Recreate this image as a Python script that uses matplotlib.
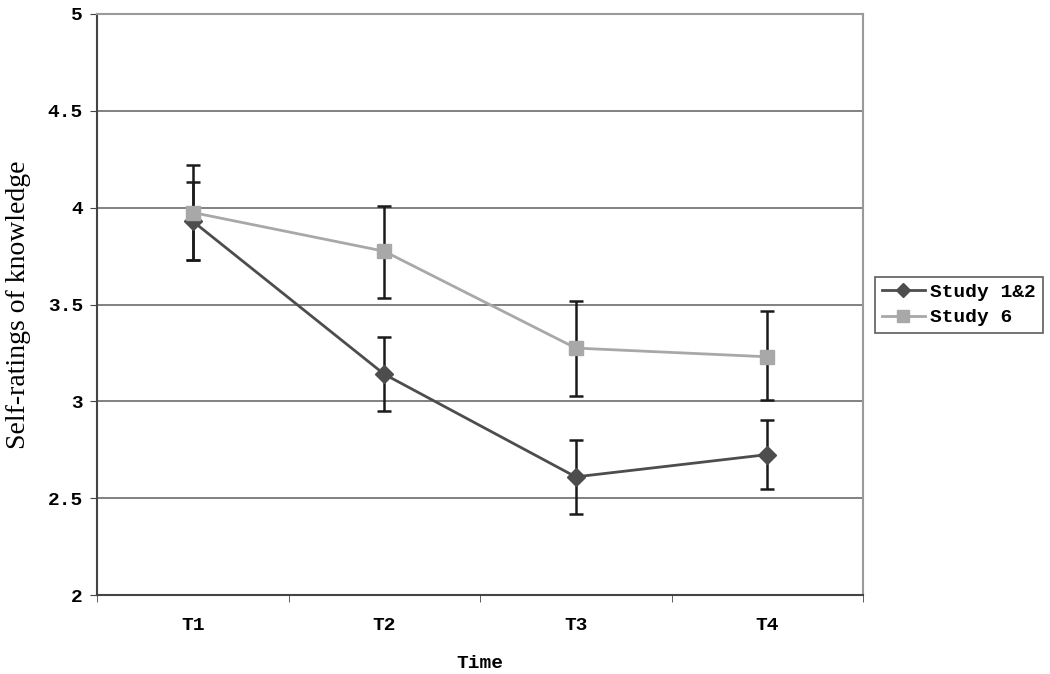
import numpy as np
import matplotlib.pyplot as plt

times = ['T1', 'T2', 'T3', 'T4']
study12 = [3.93, 3.14, 2.61, 2.725]
study12_hi = [4.13, 3.33, 2.80, 2.905]
study12_lo = [3.73, 2.95, 2.42, 2.545]
study6 = [3.975, 3.775, 3.275, 3.23]
study6_hi = [4.22, 4.01, 3.517, 3.465]
study6_lo = [3.73, 3.535, 3.03, 3.005]

mono = 'Liberation Mono'
fig = plt.figure(figsize=(10.5, 6.74), dpi=100)
ax = fig.add_axes([97 / 1050, 79 / 674, 766 / 1050, 581 / 674])

x = np.arange(len(times))
dark = '#4d4d4d'
light = '#a8a8a8'

y12 = np.array(study12)
y6 = np.array(study6)
ax.errorbar(x, y12, yerr=[y12 - np.array(study12_lo), np.array(study12_hi) - y12],
            fmt='none', ecolor='#1a1a1a', elinewidth=1.8, capsize=5, capthick=1.8, zorder=3)
ax.errorbar(x, y6, yerr=[y6 - np.array(study6_lo), np.array(study6_hi) - y6],
            fmt='none', ecolor='#1a1a1a', elinewidth=1.8, capsize=5, capthick=1.8, zorder=3)
ax.plot(x, y12, color=dark, lw=2, marker='D', ms=9, mfc=dark, mec=dark, label='Study 1&2', zorder=4)
ax.plot(x, y6, color=light, lw=2, marker='s', ms=10, mfc=light, mec=light, label='Study 6', zorder=4)

ax.set_xlim(-0.5, 3.5)
ax.set_ylim(2, 5)
ax.set_yticks(np.arange(2, 5.01, 0.5))
ax.set_yticklabels(['2', '2.5', '3', '3.5', '4', '4.5', '5'], fontfamily=mono, fontweight='bold', fontsize=14)
ax.set_xticks(x)
ax.set_xticklabels(times, fontfamily=mono, fontweight='bold', fontsize=14)
ax.set_xticks(np.arange(-0.5, 3.6, 1), minor=True)
ax.tick_params(axis='x', which='major', length=0, pad=16)
ax.tick_params(axis='x', which='minor', length=5, color='#444444')
ax.tick_params(axis='y', length=5, color='#444444', pad=5)
ax.yaxis.grid(True, color='#777777', lw=1.3)
ax.set_axisbelow(True)

for s in ['left', 'bottom']:
    ax.spines[s].set_color('#444444')
    ax.spines[s].set_linewidth(1.5)
for s in ['top', 'right']:
    ax.spines[s].set_color('#9a9a9a')
    ax.spines[s].set_linewidth(1.5)

ax.set_xlabel('Time', fontfamily=mono, fontweight='bold', fontsize=14, va='center')
ax.xaxis.set_label_coords(0.5, -68 / 581)
ax.set_ylabel('Self-ratings of knowledge', fontfamily='Liberation Serif', fontsize=20, va='center')
ax.yaxis.set_label_coords(-78 / 766, 0.5)

leg = fig.legend(loc='center left', bbox_to_anchor=(875 / 1050, 1 - 305 / 674),
                 prop={'family': mono, 'weight': 'bold', 'size': 14},
                 frameon=True, fancybox=False, edgecolor='#333333',
                 handlelength=2.2, borderpad=0.35, labelspacing=0.4, handletextpad=0.3,
                 borderaxespad=0, markerscale=0.8)
leg.get_frame().set_linewidth(1.2)

fig.savefig('out.png', dpi=100)
